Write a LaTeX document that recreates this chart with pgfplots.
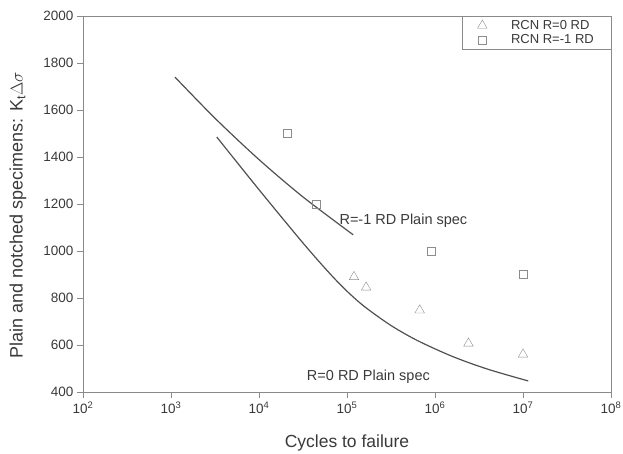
\documentclass[border=0pt]{standalone}
\usepackage{pgfplots}
\pgfplotsset{compat=1.18}
\usepackage{fontspec}
\setmainfont{Liberation Sans}
\definecolor{axisgray}{HTML}{8A8A8A}
\definecolor{linegray}{HTML}{505050}
\definecolor{markgray}{HTML}{8C8C8C}
\definecolor{textgray}{HTML}{3A3A3A}
\begin{document}
\begin{tikzpicture}
\begin{axis}[
  scale only axis, width=528pt, height=376pt,
  xmode=log, log basis x=10,
  xmin=1e2, xmax=1e8, ymin=400, ymax=2000,
  xtick={1e2,1e3,1e4,1e5,1e6,1e7,1e8},
  xticklabels={10\textsuperscript{2},10\textsuperscript{3},10\textsuperscript{4},10\textsuperscript{5},10\textsuperscript{6},10\textsuperscript{7},10\textsuperscript{8}},
  ytick={400,600,...,2000},
  /pgf/number format/assume math mode=true,
  /pgf/number format/1000 sep={},
  tick align=outside, xtick pos=bottom, ytick pos=left,
  minor x tick num=8,
  axis line style={axisgray},
  tick style={axisgray},
  major tick length=6pt, minor tick length=4pt,
  ticklabel style={font=\fontsize{13.5}{15}\selectfont, text=textgray},
  xlabel={Cycles to failure},
  ylabel={Plain and notched specimens: K\textsubscript{t}$\Delta\sigma$},
  xlabel style={font=\fontsize{17.5}{19}\selectfont, text=textgray, at={(axis description cs:0.5,-0.136)}, anchor=center},
  ylabel style={font=\fontsize{18}{20}\selectfont, text=textgray, at={(axis description cs:-0.123,0.47)}, anchor=center},
  legend style={at={(1,1)}, anchor=north east, draw=axisgray, font=\fontsize{13}{15}\selectfont, text=textgray, row sep=0pt, column sep=22pt, inner xsep=15pt, inner ysep=2pt},
  legend cell align=left,
]
\addplot[only marks, mark=triangle, mark size=5.5pt, color=markgray] coordinates {
 (1.2e5,890) (1.65e5,845) (6.7e5,748) (2.4e6,607) (1.0e7,560)};
\addlegendentry{RCN R=0 RD}
\addplot[only marks, mark=square, mark size=4pt, color=markgray] coordinates {
 (2.1e4,1500) (4.5e4,1200) (9.0e5,1000) (1.0e7,900)};
\addlegendentry{RCN R=-1 RD}
\addplot[linegray, line width=1.2pt, smooth, forget plot] coordinates {
 (1109,1740) (3162,1565) (10000,1389) (31623,1230) (117490,1069)};
\addplot[linegray, line width=1.2pt, smooth, forget plot] coordinates {
 (3311,1485) (10000,1261) (31623,1034) (63096,906) (100000,829) (158489,763)
 (316228,683) (630957,619) (1584893,551) (3981072,497) (11481536,447)};
\node[anchor=west, font=\fontsize{14.5}{16}\selectfont, text=textgray] at (axis cs:7.5e4,1130) {R=-1 RD Plain spec};
\node[anchor=west, font=\fontsize{14.5}{16}\selectfont, text=textgray] at (axis cs:3.2e4,465) {R=0 RD Plain spec};
\end{axis}
\pgfresetboundingbox
\path[use as bounding box] ([xshift=-83pt,yshift=-62pt]current axis.south west) rectangle ([xshift=12pt,yshift=16pt]current axis.north east);
\end{tikzpicture}
\end{document}
